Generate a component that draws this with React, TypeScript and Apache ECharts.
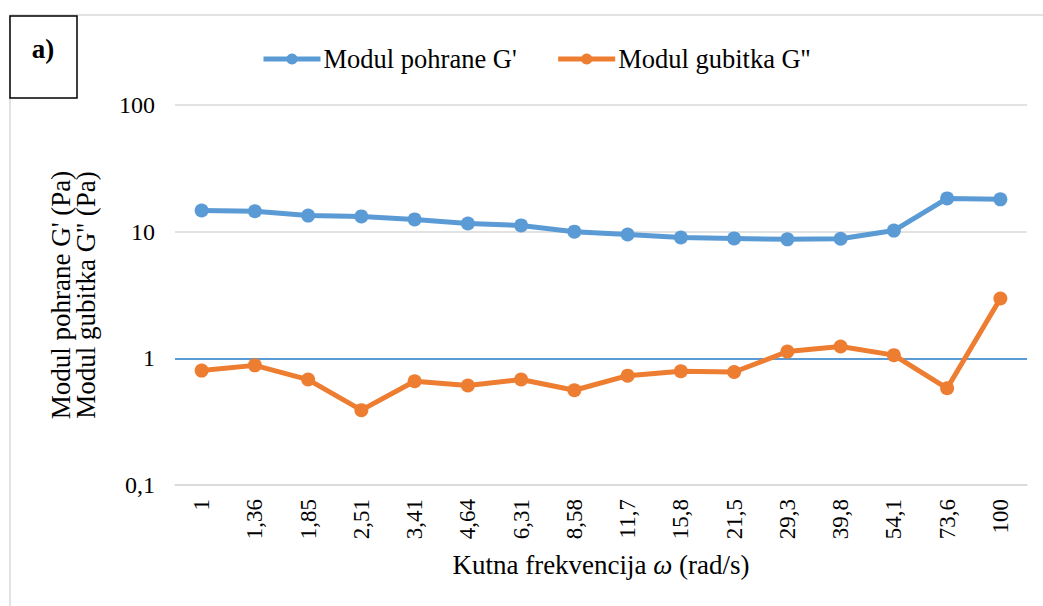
import React, { useEffect, useRef } from "react";
import * as echarts from "echarts";

const categories = ["1", "1,36", "1,85", "2,51", "3,41", "4,64", "6,31", "8,58", "11,7", "15,8", "21,5", "29,3", "39,8", "54,1", "73,6", "100"];
const storageModulus = [14.7, 14.5, 13.4, 13.2, 12.5, 11.6, 11.2, 10.0, 9.5, 9.0, 8.85, 8.7, 8.8, 10.2, 18.3, 18.0];
const lossModulus = [0.8, 0.88, 0.68, 0.39, 0.66, 0.61, 0.68, 0.56, 0.73, 0.79, 0.78, 1.13, 1.24, 1.06, 0.58, 2.97];
const seriesNames = ["Modul pohrane G'", "Modul gubitka G''"];

const FONT = "Liberation Serif";

export default function App() {
  const ref = useRef<HTMLDivElement>(null);
  useEffect(() => {
    if (!ref.current) return;
    const chart = echarts.init(ref.current, undefined, { renderer: "svg" });
    chart.setOption({
      animation: false,
      grid: { left: 175, right: 16, top: 105, bottom: 121, containLabel: false },
      legend: {
        top: 39,
        left: 256,
        itemWidth: 57,
        itemHeight: 14,
        itemGap: 39,
        lineStyle: { width: 5 },
        textStyle: { fontFamily: FONT, fontSize: 26.5, color: "#000", lineHeight: 30, padding: [0, 0, 0, -2] },
        data: seriesNames,
      },
      xAxis: {
        type: "category",
        data: categories,
        axisLine: { lineStyle: { color: "#D9D9D9", width: 1.5 } },
        axisTick: { show: false },
        axisLabel: { rotate: 90, fontFamily: FONT, fontSize: 23, color: "#000", margin: 14 },
        name: "Kutna frekvencija {i|ω} (rad/s)",
        nameLocation: "middle",
        nameGap: 65,
        nameTextStyle: {
          fontFamily: FONT,
          fontSize: 27,
          color: "#000",
          lineHeight: 30,
          rich: { i: { fontFamily: FONT, fontSize: 27, fontStyle: "italic", color: "#000", lineHeight: 30 } },
        },
      },
      yAxis: {
        type: "log",
        logBase: 10,
        min: 0.1,
        max: 100,
        axisLine: { show: false },
        axisTick: { show: false },
        splitLine: { lineStyle: { color: "#D9D9D9", width: 1.5 } },
        axisLabel: {
          fontFamily: FONT,
          fontSize: 24,
          color: "#000",
          margin: 20,
          formatter: (v: number) => String(v).replace(".", ","),
        },
        name: "Modul pohrane G' (Pa)\nModul gubitka G'' (Pa)",
        nameLocation: "middle",
        nameGap: 77,
        nameTextStyle: { fontFamily: FONT, fontSize: 27, color: "#000", lineHeight: 25 },
      },
      series: [
        {
          name: seriesNames[0],
          type: "line",
          data: storageModulus,
          color: "#5B9BD5",
          lineStyle: { width: 5, color: "#5B9BD5" },
          symbol: "circle",
          symbolSize: 14,
          itemStyle: { color: "#5B9BD5" },
          z: 3,
          markLine: {
            silent: true,
            symbol: "none",
            label: { show: false },
            lineStyle: { color: "#5B9BD5", width: 2, type: "solid" },
            data: [{ yAxis: 1 }],
            z: 1,
          },
        },
        {
          name: seriesNames[1],
          type: "line",
          data: lossModulus,
          color: "#ED7D31",
          lineStyle: { width: 5, color: "#ED7D31" },
          symbol: "circle",
          symbolSize: 14,
          itemStyle: { color: "#ED7D31" },
          z: 4,
        },
      ],
      graphic: [
        { type: "line", shape: { x1: 10, y1: 15, x2: 1043, y2: 15 }, style: { stroke: "#D9D9D9", lineWidth: 1.5 } },
        { type: "line", shape: { x1: 10, y1: 15, x2: 10, y2: 606 }, style: { stroke: "#D9D9D9", lineWidth: 1.5 } },
        { type: "rect", shape: { x: 10, y: 16, width: 67, height: 82 }, style: { fill: "#fff", stroke: "#000", lineWidth: 1.5 }, z: 10 },
        {
          type: "text",
          x: 43,
          y: 49,
          z: 11,
          style: { text: "a)", fontFamily: FONT, fontSize: 27, fontWeight: "bold", fill: "#000", align: "center", verticalAlign: "middle" },
        },
      ],
    });
    return () => chart.dispose();
  }, []);
  return <div ref={ref} style={{ width: 1043, height: 606, position: "absolute", left: 0, top: 0, background: "#fff" }} />;
}
